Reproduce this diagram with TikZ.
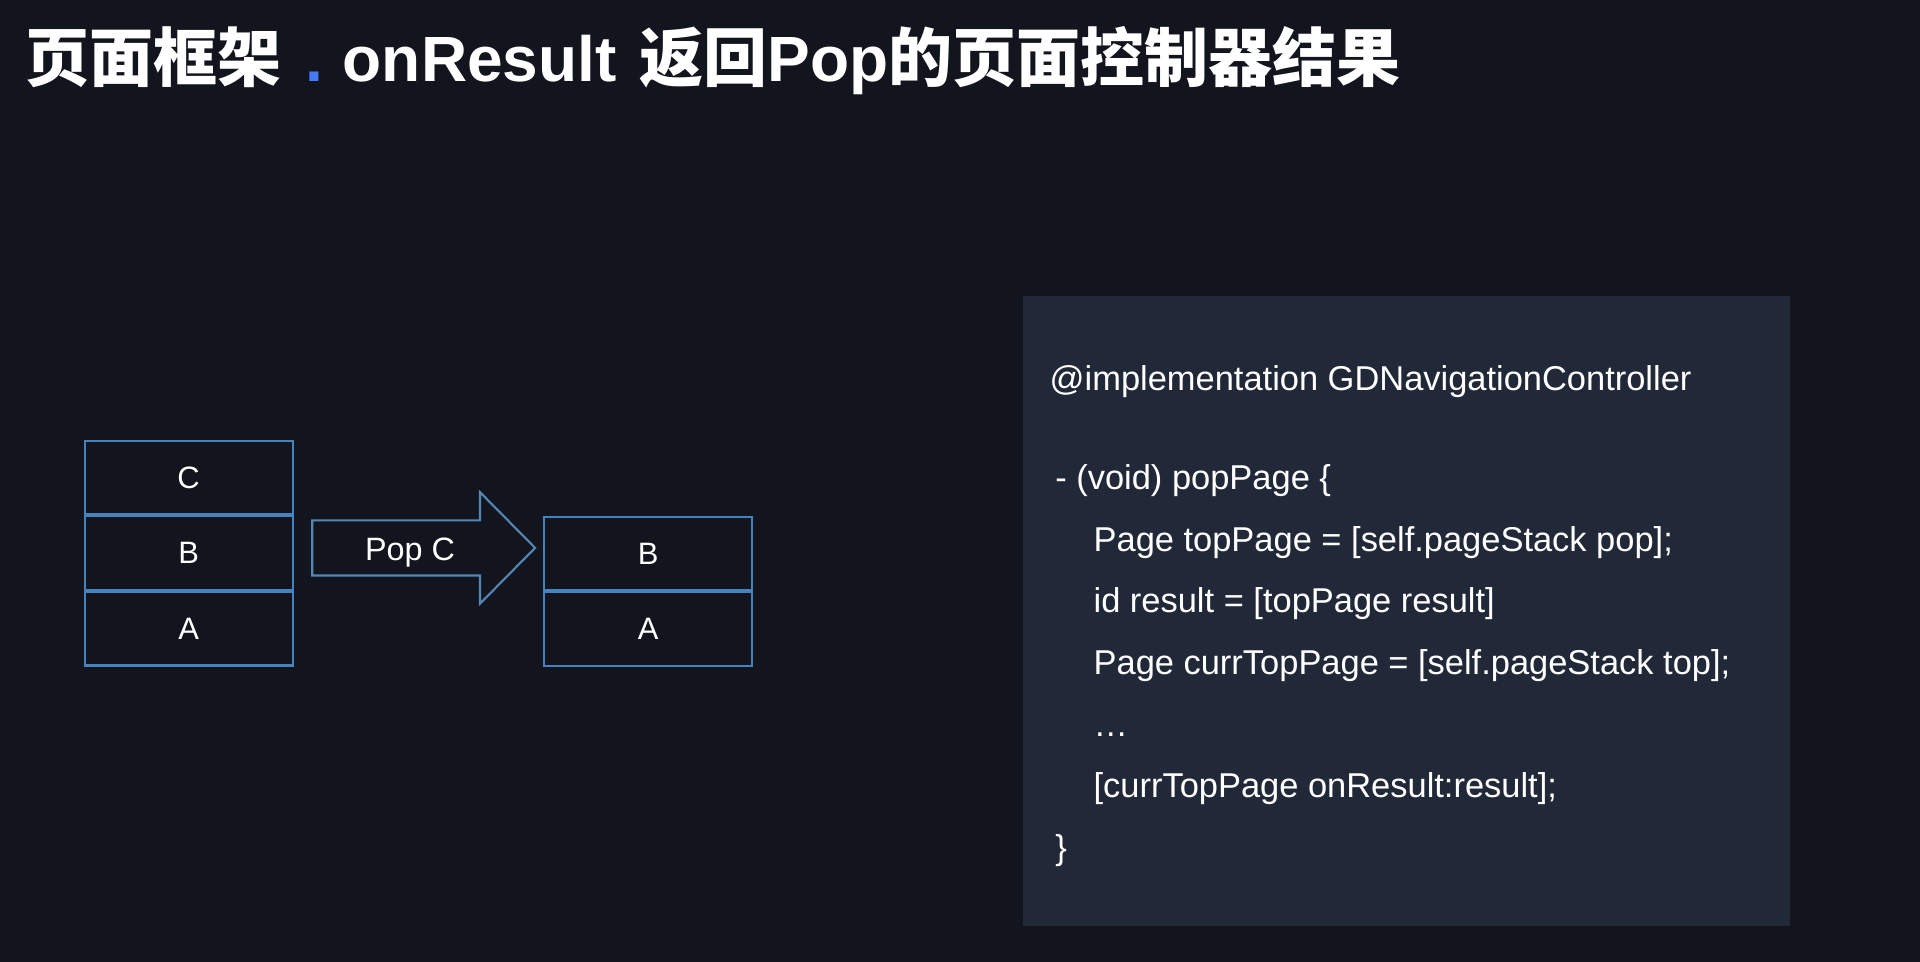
\documentclass[tikz,border=0pt]{standalone}
\usepackage{fontspec}
\setmainfont{Liberation Sans}
\newfontfamily\cjk{Noto Sans CJK SC}
\usetikzlibrary{positioning}
\definecolor{bgfill}{RGB}{18,21,30}
\definecolor{codefill}{RGB}{33,41,57}
\definecolor{stackdraw}{RGB}{70,130,190}
\definecolor{arrowdraw}{RGB}{85,135,180}
\definecolor{dotblue}{RGB}{72,122,245}

\begin{document}
\begin{tikzpicture}[
  text=white,
  page/.style={draw=stackdraw, line width=0.6pt, inner sep=0pt,
               minimum width=2.08cm, minimum height=0.735cm,
               font=\fontsize{8.8pt}{10pt}\selectfont},
  popshape/.style={draw=arrowdraw, line width=0.6pt, line join=miter},
  codetext/.style={anchor=north west, align=left, inner sep=0pt,
                   font=\fontsize{9.8pt}{17.55pt}\selectfont}
]
\fill[bgfill] (0,0) rectangle (19.2,9.62);
\useasboundingbox (0,0) rectangle (19.2,9.62);

% Title
\node[anchor=base west, inner sep=0pt,
      font=\cjk\bfseries\fontsize{18.2pt}{20pt}\selectfont] (title) at (0.245,8.80)
  {页面框架 \hspace{2.8pt}{\rmfamily\color{dotblue}.} {\rmfamily onResult} \hspace{2.5pt}返回{\rmfamily Pop}的页面控制器结果};

% Stack before the pop
\node[page] (lc) at (1.886,4.845) {C};
\node[page, below=0pt of lc] (lb) {B};
\node[page, below=0pt of lb] (la) {A};

% Pop arrow
\draw[popshape] (3.122,4.416) -- (4.80,4.416) -- (4.80,4.698) -- (5.351,4.141)
  -- (4.80,3.583) -- (4.80,3.865) -- (3.122,3.865) -- cycle;
\node[font=\fontsize{9.2pt}{10pt}\selectfont] (pop) at (4.10,4.09) {Pop C};

% Stack after the pop
\node[page] (rb) at (6.483,4.085) {B};
\node[page, below=0pt of rb] (ra) {A};

% Code panel
\node[fill=codefill, anchor=north west, inner sep=0pt,
      minimum width=7.666cm, minimum height=6.306cm] (codebox) at (10.224,6.669) {};
\node[codetext] (code) at (10.49,5.968)
  {@implementation GDNavigationController\\[10.5pt]
   \hspace*{1.6pt}- (void) popPage \{\\
   \hspace*{12.5pt}Page topPage = [self.pageStack pop];\\
   \hspace*{12.5pt}id result = [topPage result]\\
   \hspace*{12.5pt}Page currTopPage = [self.pageStack top];\\
   \hspace*{12.5pt}…\\
   \hspace*{12.5pt}[currTopPage onResult:result];\\
   \hspace*{1.6pt}\}};

\end{tikzpicture}
\end{document}
